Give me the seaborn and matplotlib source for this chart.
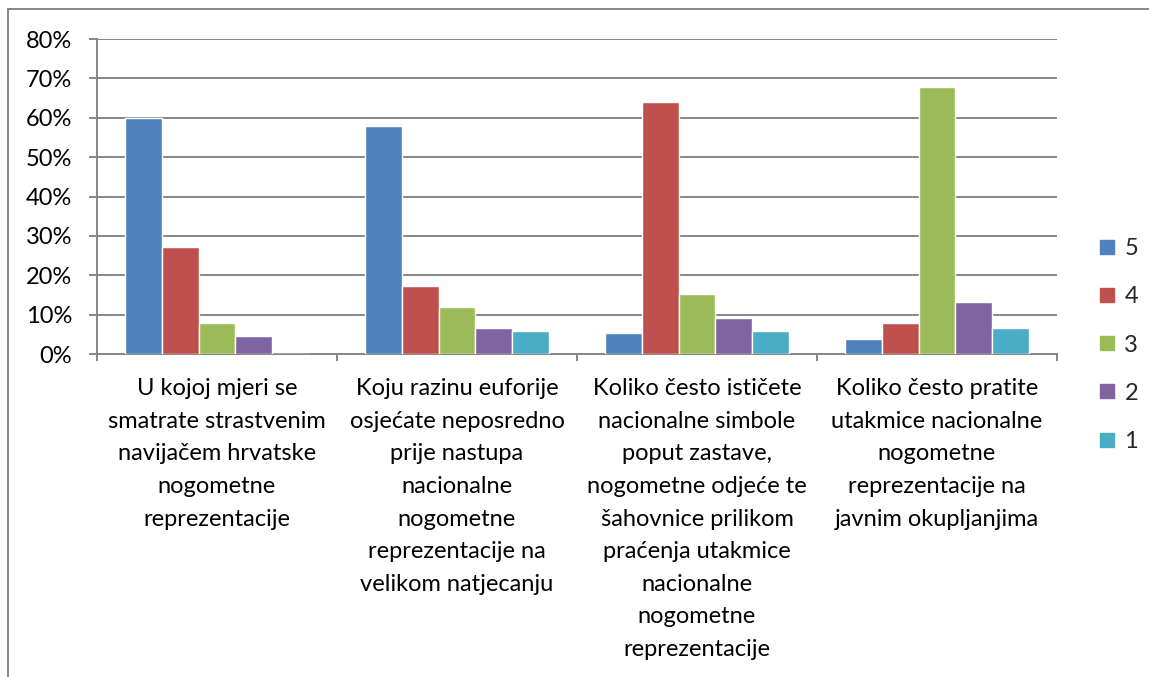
import pandas as pd
import matplotlib.pyplot as plt
import seaborn as sns
from matplotlib.ticker import PercentFormatter, FixedLocator
from matplotlib.lines import Line2D


# ============================================
# DATA
# ============================================

questions = [
    "U kojoj mjeri se\nsmatrate strastvenim\nnavijačem hrvatske\nnogometne\nreprezentacije",
    "Koju razinu euforije\nosjećate neposredno\nprije nastupa\nnacionalne\nnogometne\nreprezentacije na\nvelikom natjecanju",
    "Koliko često ističete\nnacionalne simbole\npoput zastave,\nnogometne odjeće te\nšahovnice prilikom\npraćenja utakmice\nnacionalne\nnogometne\nreprezentacije",
    "Koliko često pratite\nutakmice nacionalne\nnogometne\nreprezentacije na\njavnim okupljanjima",
]

grades = ["5", "4", "3", "2", "1"]

grade_5 = [60.0, 58.0, 5.3, 3.9]
grade_4 = [27.2, 17.2, 63.9, 7.8]
grade_3 = [7.8, 11.9, 15.2, 67.8]
grade_2 = [4.6, 6.5, 9.1, 13.1]
grade_1 = [0.0, 5.8, 5.8, 6.5]

colors = ["#4F81BD", "#C0504D", "#9BBB59", "#8064A2", "#4BACC6"]


# ============================================
# LONG FORMAT
# ============================================

rows = []
for grade, values in zip(grades, [grade_5, grade_4, grade_3, grade_2, grade_1]):
    for q, v in zip(questions, values):
        rows.append({"Pitanje": q, "Ocjena": grade, "Udio": v})

df = pd.DataFrame(rows)


# ============================================
# PLOT
# ============================================

sns.set_style("white")
plt.rcParams["font.family"] = ["Lato", "DejaVu Sans"]

fig = plt.figure(figsize=(11.49, 6.77), dpi=100)
ax = fig.add_axes([97 / 1149, 1 - 354 / 677, (1057 - 97) / 1149, (354 - 39) / 677])

sns.barplot(
    data=df,
    x="Pitanje",
    y="Udio",
    hue="Ocjena",
    hue_order=grades,
    order=questions,
    palette=colors,
    width=0.77,
    gap=0,
    saturation=1,
    legend=False,
    ax=ax,
    zorder=3,
)

grid_color = "#868686"

ax.set_ylim(0, 80)
ax.set_xlim(-0.5, 3.5)
ax.set_yticks(range(0, 81, 10))
ax.yaxis.set_major_formatter(PercentFormatter(decimals=0))
ax.yaxis.grid(True, color=grid_color, linewidth=1.4, zorder=0)
ax.set_axisbelow(True)

for side in ["top", "right"]:
    ax.spines[side].set_visible(False)
for side in ["left", "bottom"]:
    ax.spines[side].set_color(grid_color)
    ax.spines[side].set_linewidth(1.4)

ax.tick_params(axis="y", left=True, length=6, width=1.4, color=grid_color,
               labelsize=17, pad=12, labelcolor="black")
ax.tick_params(axis="x", bottom=False, labelsize=17, pad=14, labelcolor="black")
ax.xaxis.set_minor_locator(FixedLocator([-0.5, 0.5, 1.5, 2.5, 3.5]))
ax.tick_params(axis="x", which="minor", bottom=True, length=5, width=1.4,
               color=grid_color)

for lbl in ax.get_xticklabels():
    lbl.set_linespacing(1.68)
    lbl.set_ha("center")

ax.set_xlabel("")
ax.set_ylabel("")

# legend on the right
handles = [
    Line2D([0], [0], marker="s", linestyle="", markersize=10,
           markerfacecolor=c, markeredgecolor=c)
    for c in colors
]
fig.legend(
    handles,
    grades,
    loc="center left",
    bbox_to_anchor=(1076 / 1149, 1 - 345 / 677),
    frameon=False,
    fontsize=17,
    labelspacing=1.15,
    handlelength=0.8,
    handletextpad=0.35,
)

# chart frame (top and left edges visible)
fig.add_artist(Line2D([8 / 1149, 8 / 1149], [0, 1 - 9 / 677], color=grid_color, linewidth=1.4))
fig.add_artist(Line2D([8 / 1149, 1], [1 - 9 / 677, 1 - 9 / 677], color=grid_color, linewidth=1.4))

fig.savefig("out.png", dpi=100)
